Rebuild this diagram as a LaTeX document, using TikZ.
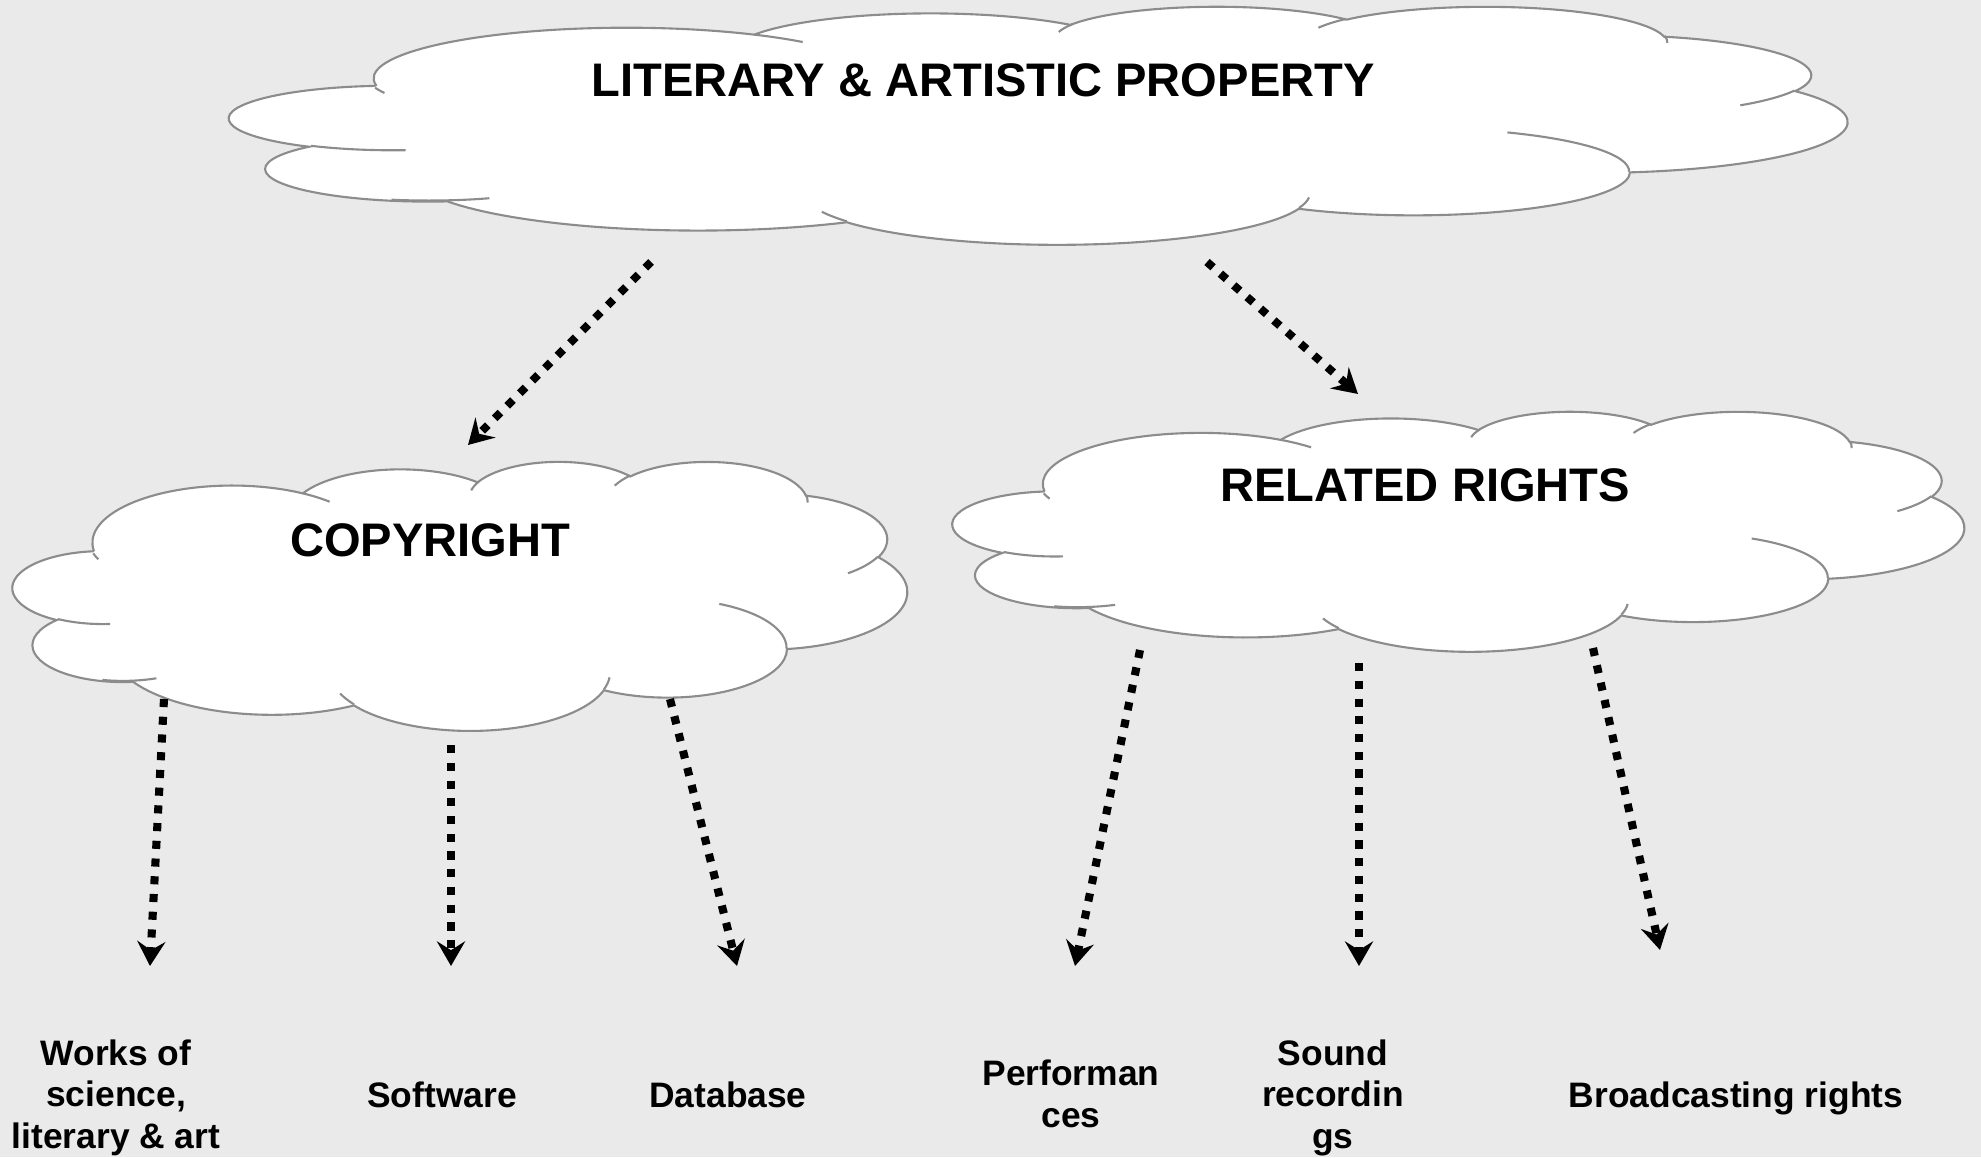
\documentclass[tikz,border=0pt]{standalone}
\usepackage{fontspec}
\setmainfont{Liberation Sans}
\usetikzlibrary{arrows.meta}
\definecolor{bgc}{RGB}{234,234,234}
\definecolor{cloudgray}{RGB}{140,140,140}

% elliptical arc given OOXML-style (visual) start angle and sweep, radii in local units
\newcommand\ooarc[4]{\pgfextra{%
 \pgfmathparse{#3}\xdef\ooA{\pgfmathresult}%
 \pgfmathparse{#3+#4}\xdef\ooB{\pgfmathresult}%
 \pgfmathparse{\ooA+mod(atan2(#1*sin(\ooA),#2*cos(\ooA))-\ooA+540,360)-180}\xdef\ooS{\pgfmathresult}%
 \pgfmathparse{\ooB+mod(atan2(#1*sin(\ooB),#2*cos(\ooB))-\ooB+540,360)-180}\xdef\ooE{\pgfmathresult}%
 } arc[start angle=\ooS, end angle=\ooE, x radius=#1, y radius=#2]}

% cloud in box: left x, top y (px), width, height (px)
\newcommand\oocloud[4]{%
 \begin{scope}[shift={({#1/100},{(1157-#2)/100})},xscale={#3/4320},yscale={-#4/4320}]
  \path[cloudshape] (3.900,14.370)
    \ooarc{6.753}{9.190}{-190.48748}{123.78053}
    \ooarc{5.333}{7.267}{-144.10238}{89.94523}
    \ooarc{4.365}{5.945}{-145.80792}{99.72302}
    \ooarc{4.857}{6.595}{-130.98607}{117.24173}
    \ooarc{5.333}{7.273}{-78.70888}{109.02692}
    \ooarc{6.775}{9.220}{-46.26725}{130.269}
    \ooarc{5.785}{7.867}{0.62502}{114.03333}
    \ooarc{6.752}{9.215}{22.4516}{115.17255}
    \ooarc{7.720}{10.543}{66.24263}{75.71102}
    \ooarc{4.360}{5.918}{-274.94208}{146.73557}
    \ooarc{4.345}{5.945}{-246.8285}{152.51885}
    -- cycle;
  \path[cloudinner]
    (4.693,26.177) \ooarc{4.345}{5.945}{86.742}{26.4295}
    (6.928,34.899) \ooarc{4.360}{5.918}{73.61047}{26.1813}
    (16.478,39.090) \ooarc{6.752}{9.215}{137.62415}{14.0811}
    (28.827,34.751) \ooarc{6.752}{9.215}{6.45327}{15.99835}
    (34.129,22.954) \ooarc{5.785}{7.867}{-70.29235}{70.91737}
    (41.798,15.354) \ooarc{5.333}{7.273}{30.31803}{27.7515}
    (38.324,5.426) \ooarc{4.857}{6.595}{-13.74433}{14.8589}
    (29.078,3.952) \ooarc{4.857}{6.595}{-149.18145}{18.19537}
    (22.141,4.720) \ooarc{4.365}{5.945}{-163.49427}{17.68635}
    (14.000,5.192) \ooarc{6.753}{9.190}{-66.70695}{12.31935}
    (4.127,15.789) \ooarc{6.753}{9.190}{150}{7.79865};
 \end{scope}}

\tikzset{
 cloudshape/.style={fill=white, draw=cloudgray, line width=0.6pt},
 cloudinner/.style={draw=cloudgray, line width=0.6pt},
 flow/.style={line width=2.3pt, dash pattern=on 2.3pt off 2.75pt,
   -{Stealth[length=7pt,width=8pt,inset=2.5pt]}},
 title/.style={font=\fontsize{13.4}{16}\selectfont\bfseries, anchor=base, inner sep=0pt},
 leaf/.style={font=\fontsize{10.07}{11.8}\selectfont\bfseries, align=center, anchor=base, inner sep=0pt},
}

\begin{document}
\begin{tikzpicture}
\useasboundingbox (0,0) rectangle (19.81,11.57);
\fill[bgc] (0,0) rectangle (19.81,11.57);

% clouds
\oocloud{230}{6}{1617}{238}
\oocloud{13}{461}{894}{269}
\oocloud{953}{411}{1011}{240}

% titles
\node[title] (lap) at (9.83,10.60) {LITERARY \& ARTISTIC PROPERTY};
\node[title] (copy) at (4.30,6.01) {COPYRIGHT};
\node[title] (rel) at (14.25,6.56) {RELATED RIGHTS};

% leaves (base anchor = baseline of last line)
\node[leaf] (works) at (1.16,0.09) {Works of\\science,\\literary \& art};
\node[leaf] (soft) at (4.42,0.50) {Software};
\node[leaf] (db) at (7.28,0.50) {Database};
\node[leaf] (perf) at (10.71,0.30) {Performan\\ces};
\node[leaf] (sound) at (13.33,0.09) {Sound\\recordin\\gs};
\node[leaf] (broad) at (17.36,0.50) {Broadcasting rights};

% connector ends
\coordinate (a1s) at (6.51,8.95);  \coordinate (a1e) at (4.68,7.12);
\coordinate (a2s) at (12.07,8.95); \coordinate (a2e) at (13.58,7.63);
\coordinate (a3s) at (1.64,4.58);  \coordinate (a3e) at (1.50,1.91);
\coordinate (a4s) at (4.51,4.12);  \coordinate (a4e) at (4.51,1.91);
\coordinate (a5s) at (6.70,4.58);  \coordinate (a5e) at (7.37,1.91);
\coordinate (a6s) at (11.40,5.07); \coordinate (a6e) at (10.75,1.91);
\coordinate (a7s) at (13.59,4.94); \coordinate (a7e) at (13.59,1.91);
\coordinate (a8s) at (15.93,5.09); \coordinate (a8e) at (16.60,2.07);

\draw[flow] (a1s) -- (a1e);
\draw[flow] (a2s) -- (a2e);
\draw[flow] (a3s) -- (a3e);
\draw[flow] (a4s) -- (a4e);
\draw[flow] (a5s) -- (a5e);
\draw[flow] (a6s) -- (a6e);
\draw[flow] (a7s) -- (a7e);
\draw[flow] (a8s) -- (a8e);
\end{tikzpicture}
\end{document}
